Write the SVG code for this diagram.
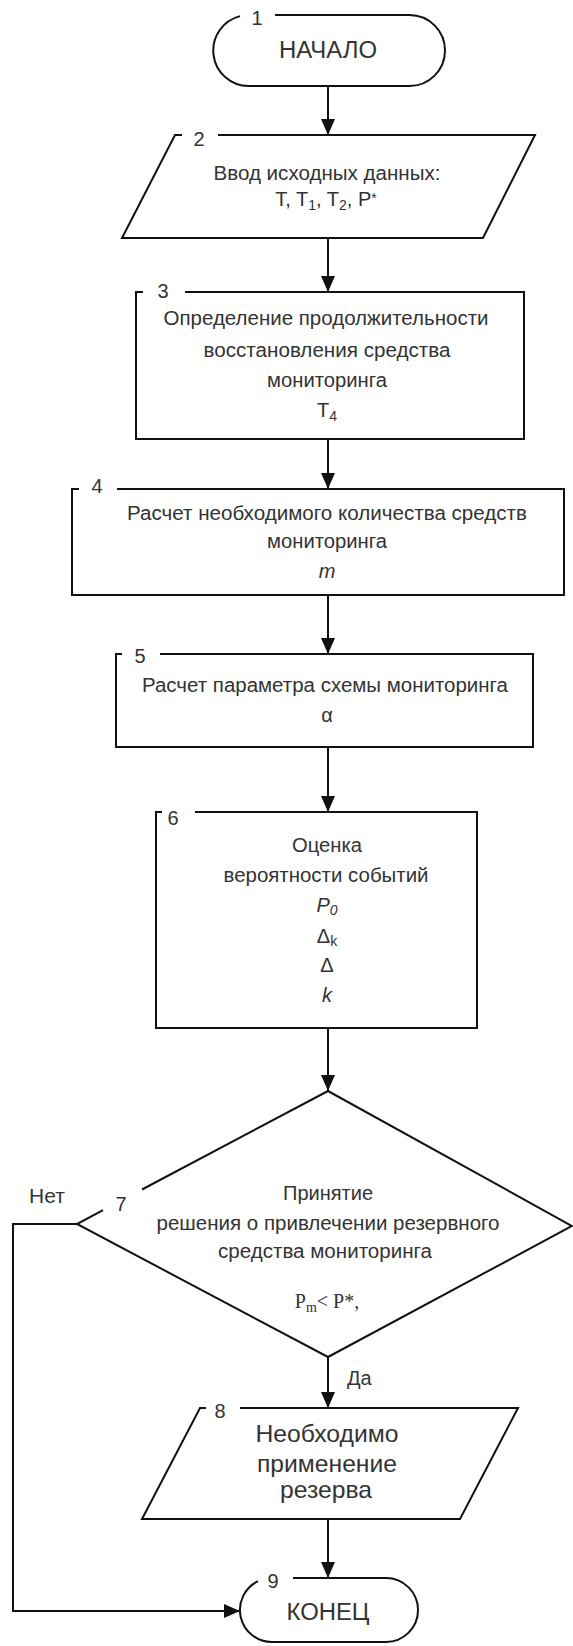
<svg xmlns="http://www.w3.org/2000/svg" width="573" height="1646" viewBox="0 0 573 1646">
<style>
.ln{fill:none;stroke:#111;stroke-width:2}
.t{font-family:"Liberation Sans",Arial,sans-serif;font-size:20px;fill:#333;text-anchor:middle}
.n{font-family:"Liberation Sans",Arial,sans-serif;font-size:20px;fill:#333;text-anchor:middle}
.big{font-size:24px}
.tr{font-family:"Liberation Serif","Times New Roman",serif;font-size:20px;fill:#333;text-anchor:middle}
.i{font-style:italic}
</style>
<defs>
<marker id="ah" markerUnits="userSpaceOnUse" viewBox="0 0 16 14" refX="16" refY="7" markerWidth="16" markerHeight="14" orient="auto">
<path d="M0,0 L16,7 L0,14 z" fill="#111"/>
</marker>
</defs>
<rect width="573" height="1646" fill="#fff"/>

<g id="connectors">
<line class="ln" x1="328" y1="86" x2="328" y2="135" marker-end="url(#ah)"/>
<line class="ln" x1="328" y1="238" x2="328" y2="292" marker-end="url(#ah)"/>
<line class="ln" x1="328" y1="439" x2="328" y2="489" marker-end="url(#ah)"/>
<line class="ln" x1="328" y1="595" x2="328" y2="654" marker-end="url(#ah)"/>
<line class="ln" x1="328" y1="747" x2="328" y2="812" marker-end="url(#ah)"/>
<line class="ln" x1="328" y1="1028" x2="328" y2="1091" marker-end="url(#ah)"/>
<line class="ln" x1="328" y1="1357" x2="328" y2="1408" marker-end="url(#ah)"/>
<line class="ln" x1="328" y1="1519" x2="328" y2="1578" marker-end="url(#ah)"/>
<polyline class="ln" points="77,1224 13,1224 13,1611 240,1611" marker-end="url(#ah)"/>
<text class="t" x="347" y="1385" style="text-anchor:start">Да</text>
<text class="t" x="47" y="1203" style="font-size:21px">Нет</text>
</g>

<g id="node1">
<path class="ln" d="M275,15 H409.5 A35.5,35.5 0 0 1 409.5,86 H248.5 A35.5,35.5 0 0 1 240,16.1"/>
<text class="n" x="257" y="25">1</text>
<text class="t" x="328" y="58" style="font-size:23px" textLength="98" lengthAdjust="spacingAndGlyphs">НАЧАЛО</text>
</g>

<g id="node2">
<path class="ln" d="M182,135 H175 L122,238 H483 L535,135 H218"/>
<text class="n" x="199" y="146">2</text>
<text class="t" x="327" y="180" textLength="227" lengthAdjust="spacingAndGlyphs">Ввод исходных данных:</text>
<text class="t" x="326" y="206">T, T<tspan font-size="14" dy="4">1</tspan><tspan dy="-4">, T</tspan><tspan font-size="14" dy="4">2</tspan><tspan dy="-4">, P</tspan><tspan font-size="14" dy="-3">*</tspan></text>
</g>

<g id="node3">
<path class="ln" d="M143,292 H136 V439 H524 V292 H185"/>
<text class="n" x="163" y="298">3</text>
<text class="t" x="326" y="325" textLength="325" lengthAdjust="spacingAndGlyphs">Определение продолжительности</text>
<text class="t" x="327" y="357" textLength="247" lengthAdjust="spacingAndGlyphs">восстановления средства</text>
<text class="t" x="327" y="387" textLength="120" lengthAdjust="spacingAndGlyphs">мониторинга</text>
<text class="t" x="327" y="417">T<tspan font-size="14" dy="4">4</tspan></text>
</g>

<g id="node4">
<path class="ln" d="M79,489 H72 V595 H564 V489 H117"/>
<text class="n" x="97" y="493">4</text>
<text class="t" x="327" y="520" textLength="400" lengthAdjust="spacingAndGlyphs">Расчет необходимого количества средств</text>
<text class="t" x="327" y="548" textLength="120" lengthAdjust="spacingAndGlyphs">мониторинга</text>
<text class="t i" x="327" y="578">m</text>
</g>

<g id="node5">
<path class="ln" d="M122,654 H116 V747 H533 V654 H160"/>
<text class="n" x="140" y="663">5</text>
<text class="t" x="325" y="692" textLength="366" lengthAdjust="spacingAndGlyphs">Расчет параметра схемы мониторинга</text>
<text class="t" x="327" y="722">α</text>
</g>

<g id="node6">
<path class="ln" d="M162,812 H156 V1028 H477 V812 H195"/>
<text class="n" x="173" y="825">6</text>
<text class="t" x="327" y="852" textLength="70" lengthAdjust="spacingAndGlyphs">Оценка</text>
<text class="t" x="326" y="882" textLength="205" lengthAdjust="spacingAndGlyphs">вероятности событий</text>
<text class="t i" x="327" y="912">P<tspan font-size="14" dy="3">0</tspan></text>
<text class="t" x="327" y="943">Δ<tspan font-size="14" dy="3">k</tspan></text>
<text class="t" x="327" y="972">Δ</text>
<text class="t i" x="327" y="1002">k</text>
</g>

<g id="node7">
<path class="ln" d="M103,1210.2 L77,1224 L328,1357 L572,1226 L328,1091 L142,1189.5"/>
<text class="n" x="121" y="1211">7</text>
<text class="t" x="328" y="1200">Принятие</text>
<text class="t" x="328" y="1230" textLength="343" lengthAdjust="spacingAndGlyphs">решения о привлечении резервного</text>
<text class="t" x="325" y="1258" textLength="214" lengthAdjust="spacingAndGlyphs">средства мониторинга</text>
<text class="tr" x="327" y="1308">P<tspan font-size="14" dy="4">m</tspan><tspan dy="-4">&lt; P*,</tspan></text>
</g>

<g id="node8">
<path class="ln" d="M206,1408 H200 L142,1519 H460 L518,1408 H240"/>
<text class="n" x="220" y="1418">8</text>
<text class="t big" x="327" y="1442" textLength="143" lengthAdjust="spacingAndGlyphs">Необходимо</text>
<text class="t big" x="327" y="1472" textLength="140" lengthAdjust="spacingAndGlyphs">применение</text>
<text class="t big" x="326" y="1498" textLength="92" lengthAdjust="spacingAndGlyphs">резерва</text>
</g>

<g id="node9">
<path class="ln" d="M293,1578 H386 A32,32 0 0 1 386,1642 H272 A32,32 0 0 1 258,1581.2"/>
<text class="n" x="273" y="1588">9</text>
<text class="t" x="328" y="1620" style="font-size:23px" textLength="83" lengthAdjust="spacingAndGlyphs">КОНЕЦ</text>
</g>
</svg>
